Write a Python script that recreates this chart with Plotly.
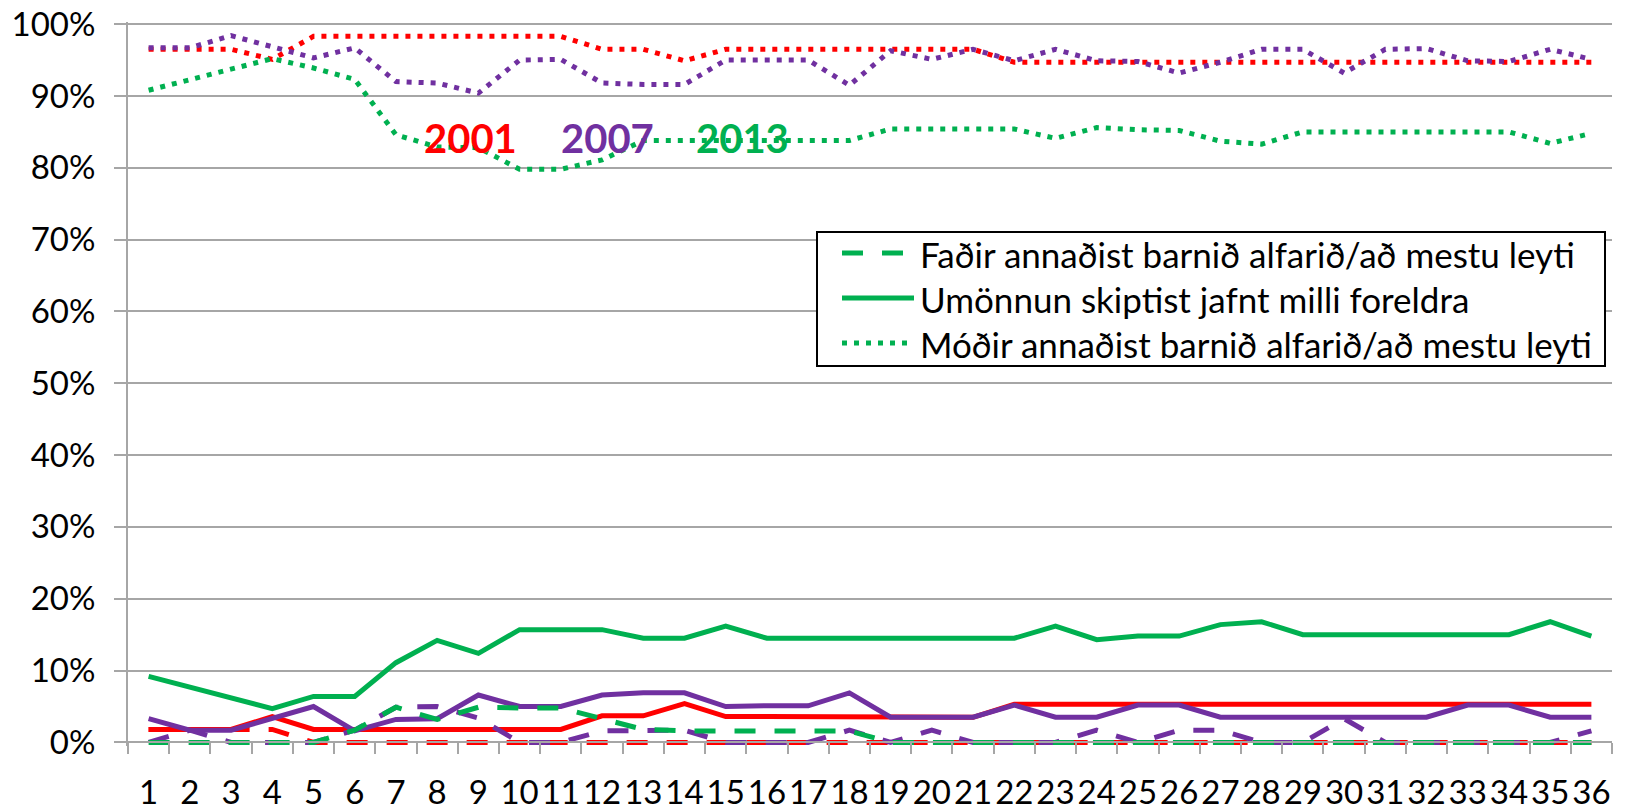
import plotly.graph_objects as go

categories = [str(i) for i in range(1, 37)]
xpos = list(range(1, 37))

# 2001 (red)
father01 = [1.8, 1.8, 1.8, 1.8] + [0.0] * 32
equal01 = [1.8, 1.8, 1.8, 3.6, 1.8, 1.8, 1.8, 1.8, 1.8, 1.8, 1.8, 3.7, 3.7, 5.4,
           3.6, 3.6, 3.6, 3.6, 3.5, 3.5, 3.5] + [5.3] * 15
mother01 = [96.5, 96.5, 96.5, 95.1, 98.3, 98.3, 98.3, 98.3, 98.3, 98.3, 98.3, 96.5,
            96.5, 94.9, 96.5, 96.5, 96.5, 96.5, 96.5, 96.5, 96.5] + [94.7] * 15

# 2007 (purple)
father07 = [0, 1.7, 0, 0, 0, 1.7, 4.9, 5.0, 3.4, 0, 0, 1.6, 1.6, 1.7, 0, 0, 0, 1.7,
            0, 1.7, 0, 0, 0, 1.7, 0, 1.7, 1.7, 0, 0, 3.3, 0, 0, 0, 0, 0, 1.6]
equal07 = [3.3, 1.7, 1.7, 3.4, 5.0, 1.6, 3.2, 3.3, 6.6, 5.0,
           5.0, 6.6, 6.9, 6.9, 5.0, 5.1, 5.1, 6.9, 3.5, 3.5,
           3.5, 5.2, 3.5, 3.5, 5.2, 5.2, 3.5, 3.5, 3.5, 3.5,
           3.5, 3.5, 5.2, 5.2, 3.5, 3.5]
mother07 = [96.7, 96.7, 98.4, 96.8, 95.3, 96.7, 92.0, 91.8, 90.4, 95.0,
            95.1, 91.8, 91.6, 91.6, 95.0, 95.0, 95.0, 91.5, 96.3, 95.1,
            96.5, 94.9, 96.5, 94.9, 94.8, 93.2, 94.7, 96.5, 96.5, 93.2,
            96.5, 96.6, 94.9, 94.8, 96.5, 95.1]

# 2013 (green)
father13 = [0, 0, 0, 0, 0, 1.7, 4.9, 3.2, 4.9, 4.8, 4.8, 3.3, 1.8, 1.6, 1.6, 1.6,
            1.6, 1.6] + [0.0] * 18
equal13 = [9.2, 7.7, 6.2, 4.7, 6.4, 6.4, 11.1, 14.2, 12.4, 15.7,
           15.7, 15.7, 14.5, 14.5, 16.2, 14.5, 14.5, 14.5, 14.5, 14.5,
           14.5, 14.5, 16.2, 14.3, 14.8, 14.8, 16.4, 16.8, 15.0, 15.0,
           15.0, 15.0, 15.0, 15.0, 16.8, 14.8]
mother13 = [90.8, 92.3, 93.8, 95.2, 93.9, 92.3, 84.6, 82.9, 82.8, 79.8,
            79.8, 81.1, 83.8, 83.8, 83.8, 83.8, 83.8, 83.8, 85.4, 85.4,
            85.4, 85.4, 84.1, 85.6, 85.3, 85.2, 83.7, 83.3, 85.0, 85.0,
            85.0, 85.0, 85.0, 85.0, 83.4, 84.8]

series_names = ["Faðir annaðist barnið alfarið/að mestu leyti",
                "Umönnun skiptist jafnt milli foreldra",
                "Móðir annaðist barnið alfarið/að mestu leyti"]
years = ["2001", "2007", "2013"]
year_x = [8.81, 12.14, 15.4]
year_y = [84.1, 84.1, 84.1]

RED, PURPLE, GREEN = "#FF0000", "#7030A0", "#00B050"
DASH = "21px,19px"
DOT = "5px,7px"
LW = 5
FONT = "Lato, Carlito, 'Liberation Sans', sans-serif"

# figure geometry (the page body adds an 8px margin, so the figure is 8px smaller)
W, H = 1617, 797
ML, MR, MT, MB = 120, 13, 14, 59
PW, PH = W - ML - MR, H - MT - MB


def px_x(x):
    return (x - 8 - ML) / PW


def px_y(y):
    return (MT + PH - (y - 8)) / PH


fig = go.Figure()
groups = [
    (RED, [father01, equal01, mother01]),
    (PURPLE, [father07, equal07, mother07]),
    (GREEN, [father13, equal13, mother13]),
]
styles = [DASH, "solid", DOT]
for color, data in groups:
    for name, vals, dash in zip(series_names, data, styles):
        fig.add_trace(go.Scatter(
            x=xpos, y=vals, mode="lines", name=name, showlegend=False,
            line=dict(color=color, width=LW, dash=dash),
            hoverinfo="skip"))

for txt, xx, yy, col in zip(years, year_x, year_y, [RED, PURPLE, GREEN]):
    fig.add_annotation(x=xx, y=yy, xref="x", yref="y", text="<b>%s</b>" % txt,
                       showarrow=False, font=dict(family=FONT, size=40, color=col),
                       xanchor="center", yanchor="middle")

# legend box (series styles of the 2013 lines)
fig.add_shape(type="rect", xref="paper", yref="paper",
              x0=px_x(817), x1=px_x(1605), y0=px_y(232), y1=px_y(366),
              line=dict(color="black", width=2), fillcolor="white", layer="above")
row_y = [253, 298, 343]
for name, dash, ry in zip(series_names, styles, row_y):
    fig.add_shape(type="line", xref="paper", yref="paper",
                  x0=px_x(842), x1=px_x(914), y0=px_y(ry), y1=px_y(ry),
                  line=dict(color=GREEN, width=LW, dash=dash), layer="above")
    fig.add_annotation(x=px_x(918), y=px_y(ry + 1), xref="paper", yref="paper",
                       text=name, showarrow=False, xanchor="left", yanchor="middle",
                       font=dict(family=FONT, size=35, color="black"))

GRID = "#A6A6A6"
yr = [-0.5, 100.3]
fig.update_layout(
    width=W, height=H,
    margin=dict(l=ML, r=MR, t=MT, b=MB, autoexpand=False),
    plot_bgcolor="white", paper_bgcolor="white",
    font=dict(family=FONT, size=33, color="black"),
    showlegend=False,
    xaxis=dict(
        range=[0.5, 36.5], tickmode="array", tickvals=xpos, ticktext=categories,
        ticks="", showgrid=False, zeroline=False, automargin=False,
        showline=True, linecolor=GRID, linewidth=2,
        anchor="free", position=0.5 / (yr[1] - yr[0]),
        ticklabelstandoff=21, ticklabeloverflow="allow",
        minor=dict(tickmode="linear", tick0=0.5, dtick=1, ticks="outside",
                   ticklen=11, tickwidth=2, tickcolor=GRID, showgrid=False),
        tickfont=dict(family=FONT, size=33, color="black"),
    ),
    yaxis=dict(
        range=yr, tickmode="array", tickvals=list(range(0, 101, 10)),
        ticktext=["%d%%" % v for v in range(0, 101, 10)],
        showgrid=True, gridcolor=GRID, gridwidth=2, zeroline=False,
        automargin=False, ticklabeloverflow="allow",
        showline=True, linecolor=GRID, linewidth=2,
        ticks="outside", ticklen=12, tickwidth=2, tickcolor=GRID,
        ticklabelstandoff=12,
        tickfont=dict(family=FONT, size=33, color="black"),
    ),
)

fig.write_html("out.html")
